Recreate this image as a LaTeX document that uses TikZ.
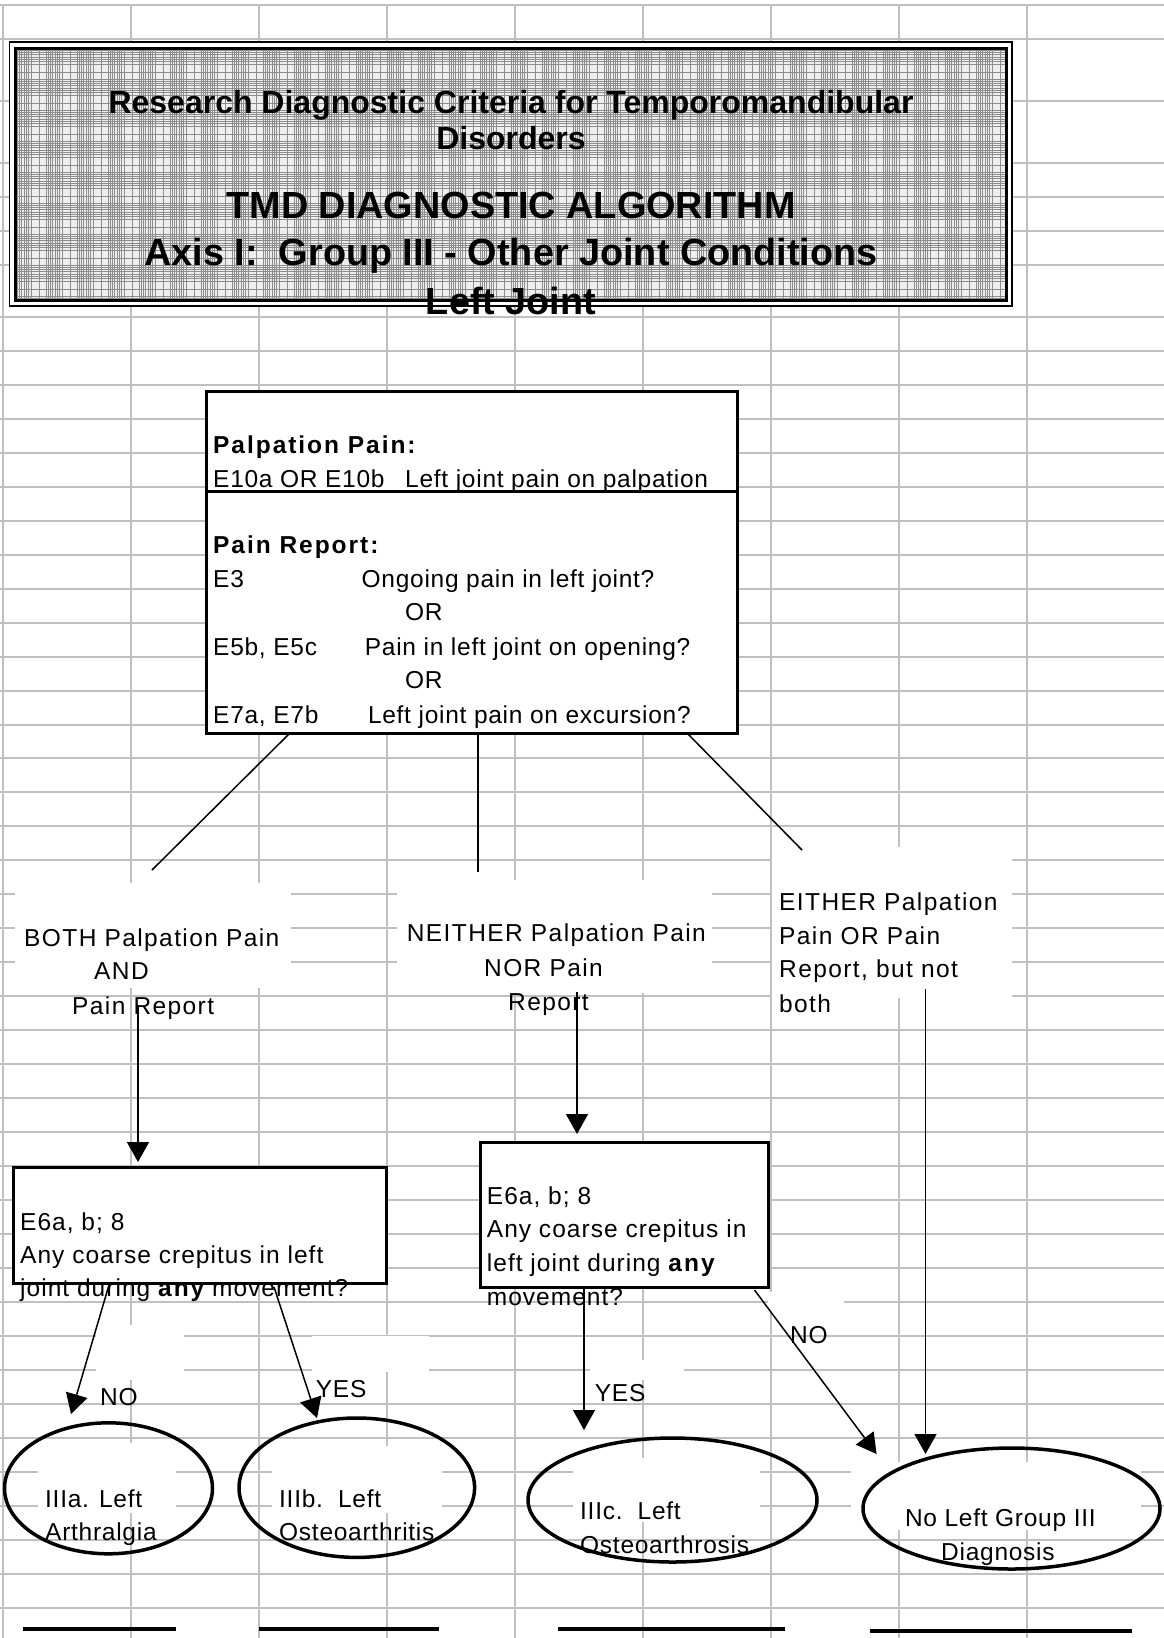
\documentclass[tikz,border=0pt]{standalone}
\usepackage{fontspec}
\setmainfont{Liberation Sans}
\newfontfamily\nsp[LetterSpace=3]{Liberation Sans}
\newfontfamily\msp[LetterSpace=4.2]{Liberation Sans}
\newfontfamily\lsp[LetterSpace=5.7]{Liberation Sans}
\newfontfamily\bsp[LetterSpace=8]{Liberation Sans}
\usetikzlibrary{arrows.meta,shapes.geometric}
\definecolor{gridc}{RGB}{192,192,192}
\definecolor{patc}{RGB}{140,140,140}
\definecolor{patbg}{RGB}{238,238,238}
\tikzset{
 gridline/.style={draw=gridc, line width=2pt},
 mask/.style={fill=white, draw=none},
 patline/.style={draw=patc, line width=1.1pt},
 txt/.style={inner sep=0pt, anchor=base west, font=\nsp\fontsize{24.5}{29}\selectfont},
 mtxt/.style={inner sep=0pt, anchor=base west, font=\msp\fontsize{24.5}{29}\selectfont},
 ltxt/.style={inner sep=0pt, anchor=base west, font=\lsp\fontsize{24.5}{29}\selectfont},
 btxt/.style={inner sep=0pt, anchor=base west, font=\bsp\bfseries\fontsize{24.5}{29}\selectfont},
 ttl/.style={inner sep=0pt, anchor=base, font=\bfseries\fontsize{32}{36}\selectfont},
 ttlbig/.style={inner sep=0pt, anchor=base, font=\bfseries\fontsize{37.8}{42}\selectfont},
 qbox/.style={draw=black, line width=3pt, fill=white, rectangle, inner sep=0pt},
 oval/.style={draw=black, line width=3.5pt, ellipse, inner sep=0pt},
 conn/.style={draw=black, line width=1.5pt},
 arr/.style={conn, -{Triangle[length=20pt,width=22pt]}},
 uline/.style={draw=black, line width=4pt},
}
\begin{document}
\begin{tikzpicture}[x=1pt,y=-1pt]
\useasboundingbox (0,0) rectangle (1164,1638);
\fill[white] (0,0) rectangle (1164,1638);
% spreadsheet grid
\foreach \x in {3,131,259,387,515,643,771,899,1027} \draw[gridline] (\x,5) -- (\x,1638);
\foreach \y in {5,39,101,163,197,231,265} \draw[gridline] (0,\y) -- (1164,\y);
\foreach \k in {0,...,38} \draw[gridline] (0,{317+33.96*\k}) -- (1164,{317+33.96*\k});
% white text-box backgrounds
\fill[mask] (15,883) rectangle (291,988);
\fill[mask] (397,880) rectangle (712,993);
\fill[mask] (772,847) rectangle (1012,998);
\fill[mask] (38,1443) rectangle (176,1513);
\fill[mask] (272,1446) rectangle (442,1513);
\fill[mask] (573,1458) rectangle (760,1522);
\fill[mask] (851,1462) rectangle (1141,1530);
\fill[mask] (312,1336) rectangle (429,1372);
\fill[mask] (96,1325) rectangle (184,1380);
\fill[mask] (590,1360) rectangle (684,1380);
\fill[mask] (768,1292) rectangle (844,1312);

% title box
\node[fill=white, draw=none, rectangle, inner sep=0pt, minimum width=1002.5pt, minimum height=263.7pt] (tout) at (510.75,174.15) {};
\node[fill=patbg, draw=none, rectangle, inner sep=0pt, minimum width=990.5pt, minimum height=251.7pt] (tin) at (510.75,174.15) {};
\begin{scope}
\clip (tin.north west) rectangle (tin.south east);
\foreach \p in {0,...,32}{\foreach \o in {0,2,4,6,9,11,13,16,24}{\draw[patline] ({15.5+31*\p+\o},45) -- ++(0,260);}}
\foreach \p in {0,...,8}{\foreach \o in {0,2,4,6,9,11,13,16,24}{\draw[patline] (12,{48.3+31*\p+\o}) -- ++(1000,0);}}
\end{scope}
\node[ttl] (t1) at (511,113.8) {Research Diagnostic Criteria for Temporomandibular};
\node[ttl] (t2) at (511,149.7) {Disorders};
\node[ttlbig] (t3) at (511,218) {TMD DIAGNOSTIC ALGORITHM};
\node[ttlbig] (t4) at (511,265) {Axis I:\ \ Group III - Other Joint Conditions};
\node[ttlbig] (t5) at (511,314.5) {Left Joint};
\draw[line width=3pt] (tin.north west) rectangle (tin.south east);
\draw[line width=1.5pt] (tout.north west) rectangle (tout.south east);

% main question box
\node[qbox, minimum width=531pt, minimum height=100pt] (mainA) at (471.5,441) {};
\node[btxt] (palp) at (213,453) {Palpation Pain:};
\node[txt] (e10) at (213,487.8) {E10a OR E10b};
\node[txt] (e10t) at (405,487.8) {Left joint pain on palpation};
\node[qbox, minimum width=531pt, minimum height=242pt] (mainB) at (471.5,612) {};
\node[btxt] (prep) at (213,553.8) {Pain Report:};
\node[txt] (e3) at (213,587) {E3};
\node[txt] (e3t) at (361.5,587) {Ongoing pain in left joint?};
\node[txt] (or1) at (405,620.5) {OR};
\node[txt] (e5) at (213,655) {E5b, E5c};
\node[txt] (e5t) at (364.7,655) {Pain in left joint on opening?};
\node[txt] (or2) at (405,688.5) {OR};
\node[txt] (e7) at (213,723) {E7a, E7b};
\node[txt] (e7t) at (367.8,723) {Left joint pain on excursion?};

% branch labels
\node[ltxt] (both1) at (24,946.3) {BOTH Palpation Pain};
\node[ltxt] (both2) at (94,979.8) {AND};
\node[ltxt] (both3) at (72,1014.3) {Pain Report};
\node[ltxt] (nei1) at (406.7,941.8) {NEITHER Palpation Pain};
\node[ltxt] (nei2) at (484,976.5) {NOR Pain};
\node[ltxt] (nei3) at (508,1010.5) {Report};
\node[ltxt] (eit1) at (779,910.5) {EITHER Palpation};
\node[ltxt] (eit2) at (779,944.5) {Pain OR Pain};
\node[ltxt] (eit3) at (779,977.8) {Report, but not};
\node[ltxt] (eit4) at (779,1012) {both};

% lower question boxes
\node[qbox, minimum width=372.5pt, minimum height=116pt] (boxL) at (199.75,1225) {};
\node[mtxt] (l1) at (20,1230.5) {E6a, b; 8};
\node[mtxt] (l2) at (20,1263.8) {Any coarse crepitus in left};
\node[mtxt] (l3) at (20,1296.8) {joint during {\bsp\bfseries any} movement?};
\node[qbox, minimum width=288pt, minimum height=145pt] (boxM) at (624,1214.5) {};
\node[mtxt] (m1) at (486.7,1204.8) {E6a, b; 8};
\node[mtxt] (m2) at (486.7,1237.8) {Any coarse crepitus in};
\node[mtxt] (m3) at (486.7,1271.5) {left joint during {\bsp\bfseries any}};
\node[mtxt] (m4) at (486.7,1305.5) {movement?};

% diagnoses
\node[oval, minimum width=208pt, minimum height=131pt] (ovA) at (108.5,1488.3) {};
\node[oval, minimum width=235.6pt, minimum height=139.4pt] (ovB) at (356.8,1487.7) {};
\node[oval, minimum width=289pt, minimum height=124pt] (ovC) at (672.5,1500) {};
\node[oval, minimum width=297pt, minimum height=121pt] (ovD) at (1011.5,1508.5) {};
\node[txt] (a1) at (45,1507.3) {IIIa. Left};
\node[txt] (a2) at (45,1540.8) {Arthralgia};
\node[txt] (b1t) at (279,1507) {IIIb.\ \ Left};
\node[txt] (b2t) at (279,1540.5) {Osteoarthritis};
\node[txt] (c1t) at (580,1519.8) {IIIc.\ \ Left};
\node[txt] (c2t) at (580,1553.8) {Osteoarthrosis};
\node[txt] (d1t) at (904.8,1526.8) {No Left Group III};
\node[txt] (d2t) at (941,1560.5) {Diagnosis};

% connectors from main box
\coordinate (p1) at (290,733); \coordinate (q1) at (152,870);
\coordinate (p2) at (478,733); \coordinate (q2) at (478,872);
\coordinate (p3) at (687,733); \coordinate (q3) at (802,850);
\draw[conn] (p1) -- (q1);
\draw[conn] (p2) -- (q2);
\draw[conn] (p3) -- (q3);

% arrows
\coordinate (bs) at (138,1005); \coordinate (bt) at (138,1162);
\draw[arr] (bs) -- (bt);
\coordinate (ns) at (577,992); \coordinate (nt) at (577,1134);
\draw[arr] (ns) -- (nt);
\coordinate (es) at (925.5,989); \coordinate (et) at (925.5,1454);
\draw[arr] (es) -- (et);
\coordinate (las) at (109,1285); \coordinate (lat) at (71,1414);
\draw[arr] (las) -- (lat);
\coordinate (lbs) at (274,1287); \coordinate (lbt) at (317,1418);
\draw[arr] (lbs) -- (lbt);
\coordinate (mcs) at (584,1287); \coordinate (mct) at (584,1430);
\draw[arr] (mcs) -- (mct);
\coordinate (mds) at (754.5,1290); \coordinate (mdt) at (876.6,1454);
\draw[arr] (mds) -- (mdt);

% arrow labels
\node[txt] (noA) at (100,1405.5) {NO};
\node[txt] (yesB) at (315.7,1397) {YES};
\node[txt] (yesC) at (594.7,1401.8) {YES};
\node[txt] (noD) at (790,1343.8) {NO};

% signature lines
\draw[uline] (23,1629) -- (175.5,1629);
\draw[uline] (259,1629) -- (439,1629);
\draw[uline] (558,1629) -- (785,1629);
\draw[uline] (870,1631) -- (1132,1631);
\end{tikzpicture}
\end{document}
